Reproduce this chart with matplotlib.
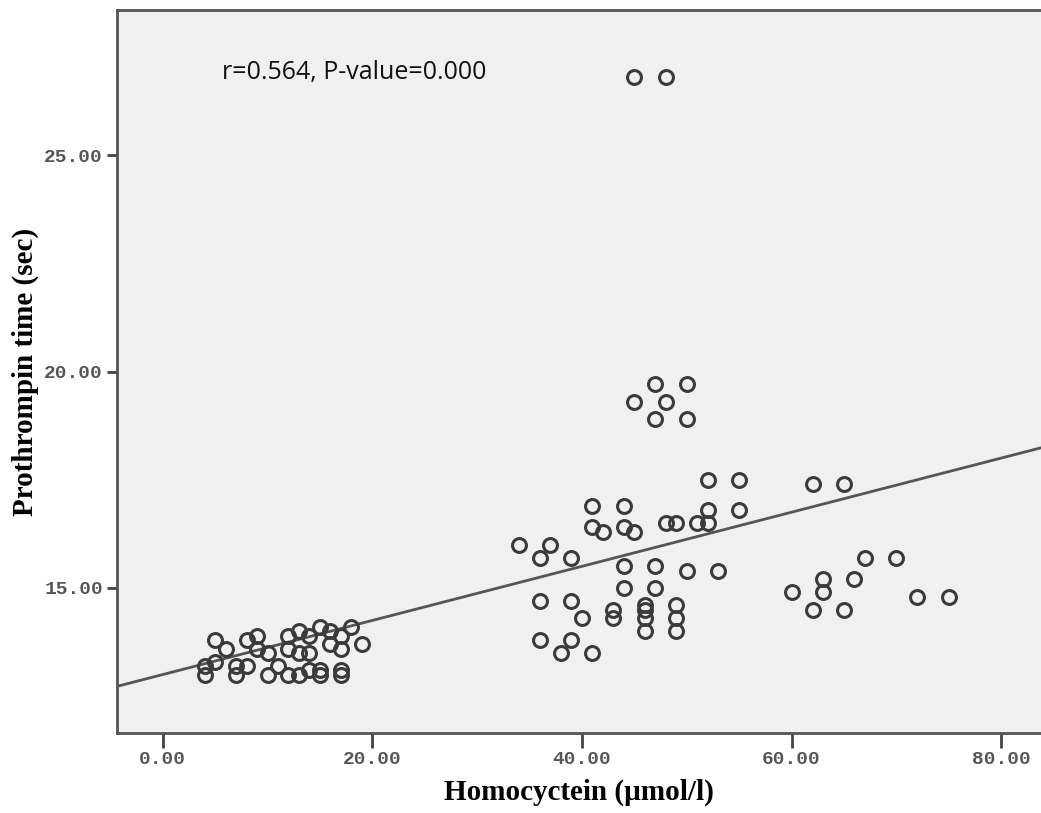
import matplotlib.pyplot as plt
import numpy as np

# homocysteine (umol/l) vs prothrombin time (sec)
hcy_low = [4, 4, 5, 5, 6, 7, 7, 8, 8, 9, 9, 10, 10, 11, 12, 12, 12, 13, 13, 13,
           14, 14, 14, 15, 15, 15, 16, 16, 17, 17, 17, 17, 18, 19]
pt_low = [13.2, 13.0, 13.8, 13.3, 13.6, 13.2, 13.0, 13.8, 13.2, 13.9, 13.6, 13.5, 13.0, 13.2,
          13.9, 13.6, 13.0, 14.0, 13.5, 13.0, 13.9, 13.5, 13.1, 14.1, 13.1, 13.0, 14.0, 13.7,
          13.9, 13.6, 13.1, 13.0, 14.1, 13.7]

hcy_high = [45, 48, 47, 50, 45, 48, 47, 50, 52, 55, 52, 55, 41, 44, 41, 42, 44, 45,
            48, 49, 51, 52, 34, 37, 36, 39, 44, 47, 50, 53, 44, 47, 36, 39,
            43, 43, 46, 46, 46, 46, 49, 49, 49, 40, 36, 39, 38, 41,
            62, 65, 67, 70, 63, 66, 60, 63, 72, 75, 62, 65]
pt_high = [26.8, 26.8, 19.7, 19.7, 19.3, 19.3, 18.9, 18.9, 17.5, 17.5, 16.8, 16.8, 16.9, 16.9,
           16.4, 16.3, 16.4, 16.3, 16.5, 16.5, 16.5, 16.5, 16.0, 16.0, 15.7, 15.7, 15.5, 15.5,
           15.4, 15.4, 15.0, 15.0, 14.7, 14.7, 14.5, 14.3, 14.6, 14.5, 14.3, 14.0, 14.6, 14.3,
           14.0, 14.3, 13.8, 13.8, 13.5, 13.5,
           17.4, 17.4, 15.7, 15.7, 15.2, 15.2, 14.9, 14.9, 14.8, 14.8, 14.5, 14.5]

# fit line shown on the chart
fit_intercept = 13.0
fit_slope = 0.0625

x_ticks = [0, 20, 40, 60, 80]
y_ticks = [15, 20, 25]
annotation = "r=0.564, P-value=0.000"

hcy = np.array(hcy_low + hcy_high)
pt = np.array(pt_low + pt_high)

fig = plt.figure(figsize=(10.41, 8.13), dpi=100)
ax = fig.add_axes([0.1124, 0.0984, 0.8876, 0.8893])
ax.set_facecolor('#f0f0f0')

ax.set_xlim(-4.36, 83.8)
ax.set_ylim(11.65, 28.35)

xs = np.array(ax.get_xlim())
ax.plot(xs, fit_intercept + fit_slope * xs, color='#555555', lw=2, zorder=2)

ax.plot(hcy, pt, 'o', ms=10, mfc='none', mec='#3a3a3a', mew=2.2, zorder=3)

for s in ['left', 'bottom', 'top']:
    ax.spines[s].set_color('#555555')
    ax.spines[s].set_linewidth(2)
ax.spines['right'].set_visible(False)

ax.set_xticks(x_ticks)
ax.set_xticklabels([f"{v:.2f}" for v in x_ticks])
ax.set_yticks(y_ticks)
ax.set_yticklabels([f"{v:.2f}" for v in y_ticks])
ax.tick_params(axis='x', direction='out', length=11, width=2, color='#444444', pad=2)
ax.tick_params(axis='y', direction='out', length=7, width=2, color='#444444', pad=3)
for lab in ax.get_xticklabels() + ax.get_yticklabels():
    lab.set_family('Liberation Mono')
    lab.set_fontsize(14)
    lab.set_fontweight('bold')
    lab.set_color('#555555')

ax.set_xlabel("Homocyctein (µmol/l)", family='Liberation Serif', fontweight='bold',
              fontsize=21, labelpad=8)
ax.set_ylabel("Prothrompin time (sec)", family='Liberation Serif', fontweight='bold',
              fontsize=21, labelpad=4)

ax.text(0.1136, 0.914, annotation, transform=ax.transAxes, family='Open Sans',
        fontsize=18, va='center', ha='left', color='#111111')

fig.savefig('out.png', dpi=100)
